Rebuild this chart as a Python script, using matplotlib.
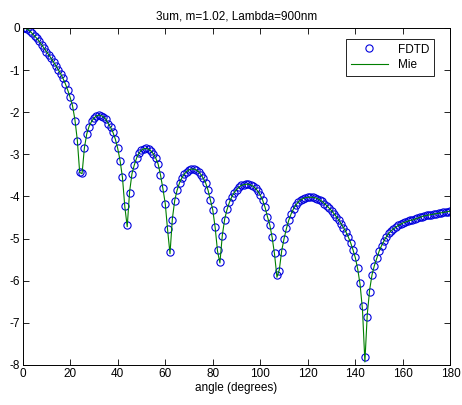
import numpy as np
import matplotlib.pyplot as plt

# angle in degrees, one sample per degree
angles = list(range(0, 181))

fdtd = [
    0.00, -0.01, -0.03, -0.07, -0.13, -0.19, -0.25, -0.32, -0.40, -0.48,
    -0.56, -0.64, -0.72, -0.81, -0.90, -0.99, -1.09, -1.20, -1.33, -1.48,
    -1.65, -1.85, -2.20, -2.68, -3.41, -3.44, -2.86, -2.52, -2.34, -2.22,
    -2.14, -2.09, -2.07, -2.08, -2.11, -2.17, -2.27, -2.36, -2.48, -2.64,
    -2.86, -3.15, -3.55, -4.23, -4.68, -3.91, -3.47, -3.25, -3.08, -2.97,
    -2.90, -2.87, -2.86, -2.88, -2.92, -2.99, -3.09, -3.23, -3.49, -3.81,
    -4.17, -4.78, -5.32, -4.55, -4.10, -3.85, -3.68, -3.56, -3.47, -3.41,
    -3.37, -3.35, -3.35, -3.37, -3.41, -3.48, -3.57, -3.68, -3.85, -4.09,
    -4.32, -4.73, -5.27, -5.55, -4.95, -4.55, -4.31, -4.14, -4.01, -3.91,
    -3.84, -3.78, -3.74, -3.72, -3.71, -3.71, -3.73, -3.76, -3.81, -3.88,
    -3.97, -4.09, -4.26, -4.48, -4.68, -4.97, -5.35, -5.87, -5.76, -5.31,
    -5.00, -4.76, -4.56, -4.41, -4.29, -4.20, -4.13, -4.08, -4.05, -4.03,
    -4.02, -4.02, -4.02, -4.03, -4.05, -4.08, -4.12, -4.17, -4.22, -4.28,
    -4.34, -4.41, -4.48, -4.56, -4.65, -4.74, -4.84, -4.96, -5.10, -5.27,
    -5.45, -5.71, -6.06, -6.60, -7.81, -6.86, -6.26, -5.87, -5.65, -5.47,
    -5.30, -5.17, -5.06, -4.96, -4.88, -4.82, -4.77, -4.73, -4.69, -4.66,
    -4.63, -4.61, -4.59, -4.57, -4.56, -4.54, -4.52, -4.50, -4.48, -4.46,
    -4.45, -4.44, -4.43, -4.42, -4.41, -4.40, -4.39, -4.38, -4.37, -4.36,
    -4.35,
]

mie = [
    0.00, -0.01, -0.03, -0.07, -0.13, -0.19, -0.25, -0.32, -0.40, -0.48,
    -0.56, -0.64, -0.72, -0.81, -0.90, -0.99, -1.09, -1.20, -1.33, -1.48,
    -1.65, -1.85, -2.18, -2.66, -3.43, -3.46, -2.84, -2.51, -2.33, -2.22,
    -2.14, -2.09, -2.07, -2.08, -2.11, -2.17, -2.27, -2.36, -2.48, -2.64,
    -2.86, -3.15, -3.55, -4.25, -4.72, -3.89, -3.46, -3.25, -3.08, -2.97,
    -2.90, -2.87, -2.86, -2.88, -2.92, -2.99, -3.09, -3.23, -3.49, -3.81,
    -4.17, -4.80, -5.36, -4.53, -4.09, -3.85, -3.68, -3.56, -3.47, -3.41,
    -3.37, -3.35, -3.35, -3.37, -3.41, -3.48, -3.57, -3.68, -3.85, -4.09,
    -4.32, -4.74, -5.30, -5.58, -4.93, -4.54, -4.31, -4.14, -4.01, -3.91,
    -3.84, -3.78, -3.74, -3.72, -3.71, -3.71, -3.73, -3.76, -3.81, -3.88,
    -3.97, -4.09, -4.26, -4.48, -4.68, -4.98, -5.38, -5.92, -5.74, -5.29,
    -5.00, -4.76, -4.56, -4.41, -4.29, -4.20, -4.13, -4.08, -4.05, -4.03,
    -4.02, -4.02, -4.02, -4.03, -4.05, -4.08, -4.12, -4.17, -4.22, -4.28,
    -4.34, -4.41, -4.48, -4.56, -4.65, -4.74, -4.84, -4.96, -5.10, -5.27,
    -5.46, -5.73, -6.10, -6.70, -7.93, -6.80, -6.22, -5.86, -5.64, -5.47,
    -5.30, -5.17, -5.06, -4.96, -4.88, -4.82, -4.77, -4.73, -4.69, -4.66,
    -4.63, -4.61, -4.59, -4.57, -4.56, -4.54, -4.52, -4.50, -4.48, -4.46,
    -4.45, -4.44, -4.43, -4.42, -4.41, -4.40, -4.39, -4.38, -4.37, -4.36,
    -4.35,
]

xticks = [0, 20, 40, 60, 80, 100, 120, 140, 160, 180]
yticks = [0, -1, -2, -3, -4, -5, -6, -7, -8]

plt.rcParams['font.family'] = ['Liberation Sans', 'DejaVu Sans']
plt.rcParams['axes.unicode_minus'] = False

fig = plt.figure(figsize=(4.62, 4.05), dpi=100)
ax = fig.add_axes([0.049, 0.099, 0.926, 0.832])

ax.plot(angles, fdtd, 'o', markersize=5.2, markerfacecolor='none',
        markeredgecolor='#0000dd', markeredgewidth=0.8, label='FDTD')
ax.plot(angles, mie, '-', color='#007f00', linewidth=0.8, label='Mie')

ax.set_xlim(0, 180)
ax.set_ylim(-8, 0)
ax.set_xticks(xticks)
ax.set_yticks(yticks)
ax.tick_params(direction='in', length=4, width=0.6, labelsize=8.5,
               top=True, right=True, pad=2)
for s in ax.spines.values():
    s.set_linewidth(0.7)

ax.set_title('3um, m=1.02, Lambda=900nm', fontsize=8.5, pad=6)
ax.set_xlabel('angle (degrees)', fontsize=8.5, labelpad=2)

leg = ax.legend(loc='upper right', bbox_to_anchor=(0.975, 0.985),
                fontsize=8.5, fancybox=False, edgecolor='black',
                framealpha=1, handlelength=3.2, borderpad=0.4,
                labelspacing=0.3)
leg.get_frame().set_linewidth(0.6)

fig.savefig('out.png', dpi=100)
